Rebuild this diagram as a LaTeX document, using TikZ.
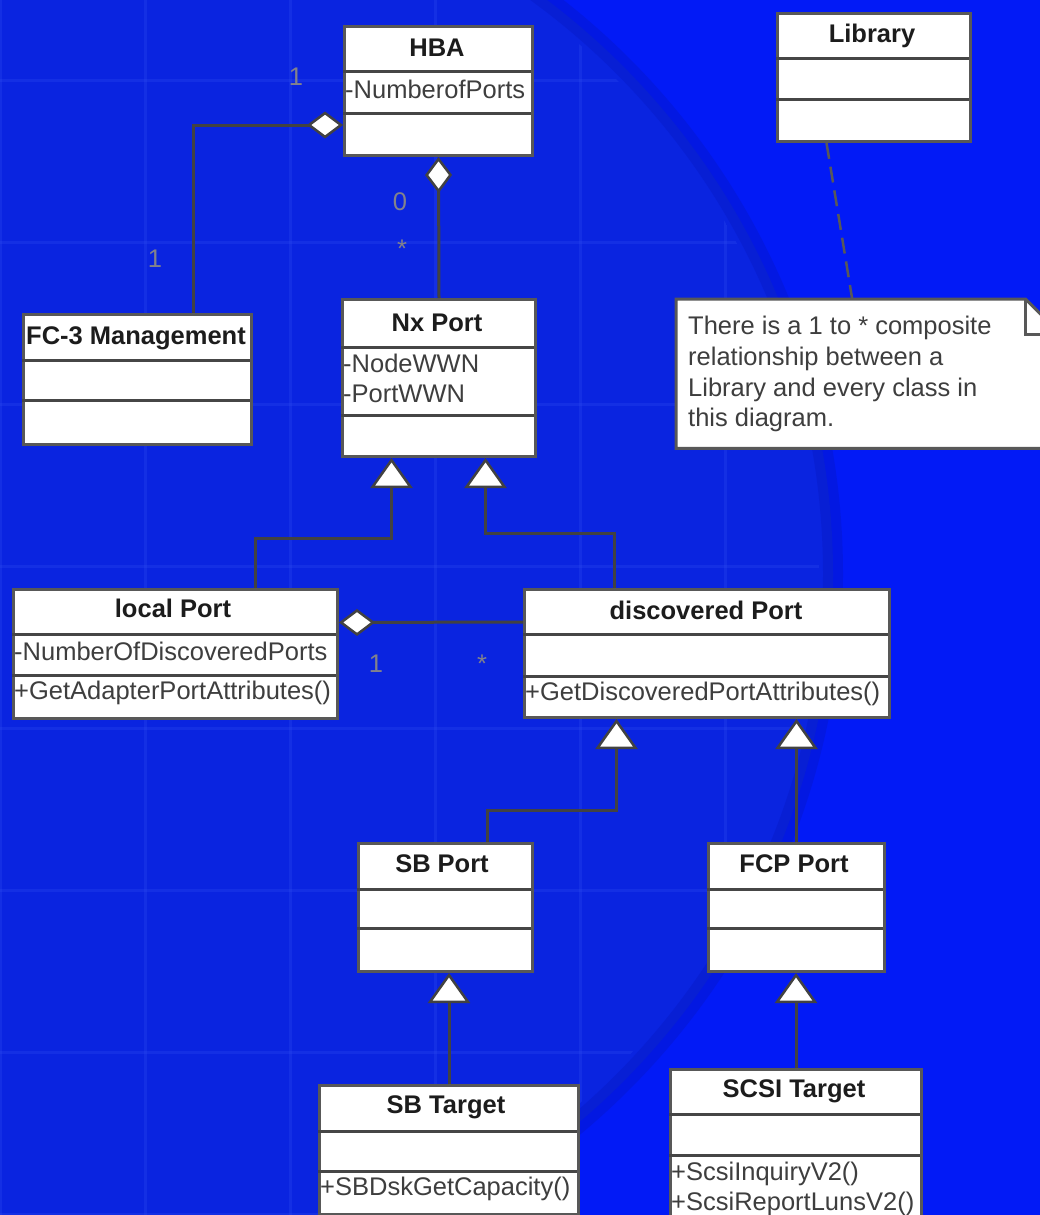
\documentclass[tikz,border=0pt]{standalone}
\usepackage{fontspec}
\setmainfont{Liberation Sans}
\usetikzlibrary{arrows.meta,calc}
\definecolor{bgR}{RGB}{2,26,246}
\definecolor{bgL}{RGB}{10,36,224}
\definecolor{ringc}{RGB}{6,22,190}
\definecolor{gridc}{RGB}{44,74,240}
\definecolor{edge}{RGB}{88,88,88}
\definecolor{ink}{RGB}{28,28,28}
\definecolor{labc}{RGB}{130,130,140}
\tikzset{
 cls/.style={draw=edge, line width=3pt, fill=white, rectangle, inner sep=0pt, anchor=north west},
 divider/.style={draw=edge!80!black, line width=3pt},
 ttl/.style={font=\bfseries\fontsize{25.5}{30}\selectfont, text=ink, anchor=base, inner sep=0pt},
 attr/.style={font=\fontsize{25.5}{30.7}\selectfont, text=ink!85!white, anchor=base west, inner sep=0pt},
 mult/.style={font=\fontsize{25.5}{30}\selectfont, text=labc, anchor=base, inner sep=0pt},
 conn/.style={draw=edge!75!black, line width=3pt},
 agg/.style={conn, {Diamond[fill=white, length=36pt, width=27pt, line width=2.5pt]}-},
 gen/.style={conn, -{Triangle[fill=white, length=30pt, width=42pt, line width=2.5pt]}},
 dep/.style={draw=edge, line width=2.5pt, dash pattern=on 16pt off 8pt},
}
\newcommand\umlclass[7]{%
 \node[cls, minimum width={(#4-#2)*1pt}, minimum height={(#5-#3)*1pt}] (#1) at (#2,#3) {};
 \draw[divider] (#2,#6) -- (#4,#6);
 \draw[divider] (#2,#7) -- (#4,#7);
}
\begin{document}
\begin{tikzpicture}[x=1pt,y=-1pt]
\useasboundingbox (0,0) rectangle (1040,1215);
% background
\fill[bgR] (0,0) rectangle (1040,1215);
\begin{scope}
 \clip (0,0) rectangle (1040,1215);
 \fill[bgL] (114,574) circle (719);
 \begin{scope}
  \clip (114,574) circle (705);
  \foreach \x in {0,145,...,870} \draw[gridc, line width=3pt, opacity=.3] (\x,0) -- (\x,1215);
  \foreach \y in {80,242,...,1215} \draw[gridc, line width=3pt, opacity=.3] (0,\y) -- (1040,\y);
 \end{scope}
 \draw[ringc, line width=20pt, opacity=.35] (114,574) circle (719);
\end{scope}

% classes
\umlclass{hba}{343}{25}{531}{154}{72}{113}
\umlclass{lib}{776}{12}{969}{140}{59}{99}
\umlclass{fc3}{22}{313}{250}{443}{360}{400}
\umlclass{nx}{341}{298}{534}{455}{347}{415}
\umlclass{lp}{12}{588}{336}{717}{634}{675}
\umlclass{dp}{523}{588}{888}{716}{634}{676}
\umlclass{sbp}{357}{842}{531}{970}{889}{928}
\umlclass{fcp}{707}{842}{883}{970}{889}{928}
\umlclass{sbt}{318}{1084}{577}{1213}{1131}{1171}
\umlclass{sct}{669}{1068}{920}{1240}{1114}{1155}

% titles
\node[ttl] (hbaT) at (437,57) {HBA};
\node[ttl] (libT) at (872,43) {Library};
\node[ttl] (fc3T) at (136,344) {FC-3 Management};
\node[ttl] (nxT) at (437,331) {Nx Port};
\node[ttl] (lpT) at (173,617) {local Port};
\node[ttl] (dpT) at (706,619) {discovered Port};
\node[ttl] (sbpT) at (442,872) {SB Port};
\node[ttl] (fcpT) at (794,872) {FCP Port};
\node[ttl] (sbtT) at (446,1113) {SB Target};
\node[ttl] (sctT) at (794,1097) {SCSI Target};

% attributes / operations
\node[attr] (hbaA) at (345,98) {-NumberofPorts};
\node[attr] (nxA1) at (343,372) {-NodeWWN};
\node[attr] (nxA2) at (343,402) {-PortWWN};
\node[attr] (lpA) at (14,660) {-NumberOfDiscoveredPorts};
\node[attr] (lpO) at (14,699) {+GetAdapterPortAttributes()};
\node[attr] (dpO) at (525,700) {+GetDiscoveredPortAttributes()};
\node[attr] (sbtO) at (320,1195) {+SBDskGetCapacity()};
\node[attr] (sctO1) at (671,1180) {+ScsiInquiryV2()};
\node[attr] (sctO2) at (671,1210) {+ScsiReportLunsV2()};

% note
\node[anchor=north west, minimum width=384pt, minimum height=149pt, inner sep=0pt] (note) at (676,299) {};
\draw[draw=edge, line width=3pt, fill=white] (note.north west) -- ([xshift=-35pt]note.north east) -- ([yshift=-35pt]note.north east) -- (note.south east) -- (note.south west) -- cycle;
\draw[edge, line width=3pt] ([xshift=-35pt]note.north east) -- ([xshift=-35pt,yshift=-35pt]note.north east) -- ([yshift=-35pt]note.north east);
\node[attr, align=left, anchor=north west] (noteT) at (688,316) {There is a 1 to * composite\\relationship between a\\Library and every class in\\this diagram.};

% connectors
\draw[agg] ([yshift=32pt]hba.south west) -| ([xshift=56pt]fc3.north);
\node[mult] (m1) at (296,85) {1};
\node[mult] (m2) at (155,267) {1};
\draw[agg] (hba.south) -- (nx.north);
\node[mult] (m3) at (400,210) {0};
\node[mult] (m4) at (402,257) {*};
\draw[gen] ([xshift=80pt]lp.north) -- ++(0,-50) -| ([xshift=-47.5pt]nx.south);
\draw[gen] ([xshift=-92.5pt]dp.north) -- ++(0,-55) -| ([xshift=46.5pt]nx.south);
\draw[agg] ([yshift=31.5pt]lp.east) -- ([yshift=31.5pt]dp.west);
\node[mult] (m5) at (376,672) {1};
\node[mult] (m6) at (482,672) {*};
\draw[gen] ([xshift=42pt]sbp.north) -- ++(0,-32) -| ([xshift=-90.5pt]dp.south);
\draw[gen] (fcp.north) -- (fcp.north |- dp.south);
\draw[gen] (sbt.north) -- (sbt.north |- sbp.south);
\draw[gen] (sct.north) -- (sct.north |- fcp.south);
\draw[dep] ([xshift=-47.5pt]lib.south) -- ([xshift=-16pt]note.north);
\end{tikzpicture}
\end{document}
